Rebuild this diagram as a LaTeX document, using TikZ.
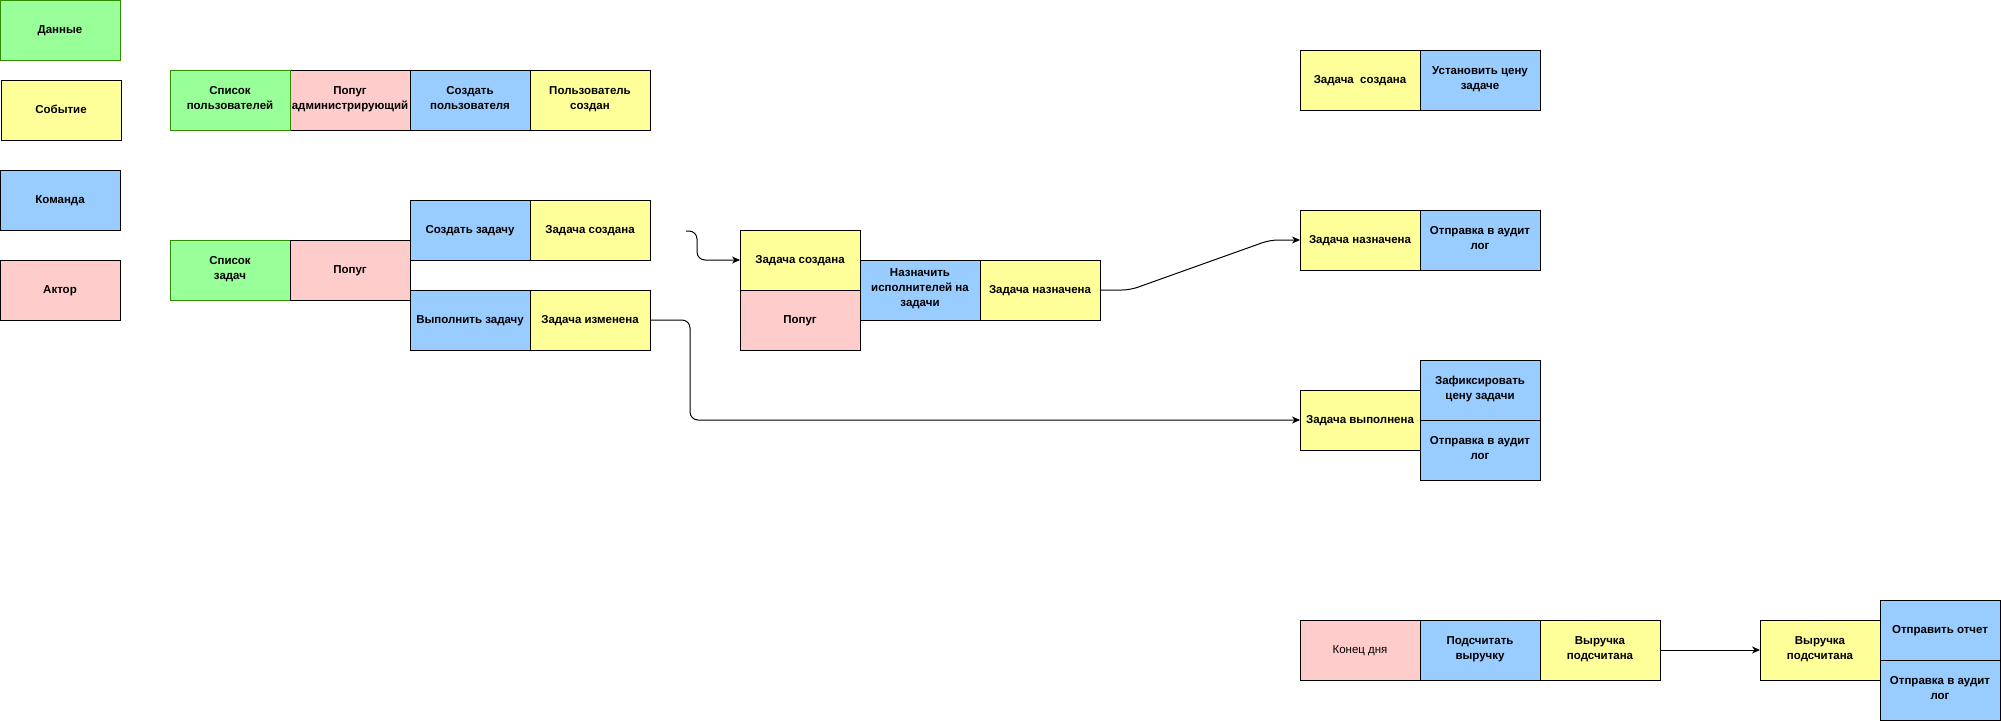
\documentclass[tikz,border=0pt]{standalone}
\usepackage{fontspec}
\setmainfont{Liberation Sans}
\usetikzlibrary{positioning,
				arrows.meta}

\definecolor{datagreen}{RGB}{153,255,153}
\definecolor{datastroke}{RGB}{45,140,0}
\definecolor{eventyellow}{RGB}{255,255,153}
\definecolor{cmdblue}{RGB}{153,204,255}
\definecolor{actorpink}{RGB}{255,204,204}

\tikzset{
  card/.style={draw=black, line width=1pt, minimum width=120pt, minimum height=60pt,
    inner sep=0pt, outer sep=0pt, align=center,
    font=\fontsize{11.5}{15}\selectfont\bfseries,
    execute at begin node=\strut, execute at end node=\strut},
  datacard/.style={card, fill=datagreen, draw=datastroke},
  eventcard/.style={card, fill=eventyellow},
  cmdcard/.style={card, fill=cmdblue},
  actorcard/.style={card, fill=actorpink},
  flow/.style={line width=1pt, rounded corners=8pt,
    -{Stealth[length=8pt,width=7pt,inset=2.5pt]}}
}

\begin{document}
\begin{tikzpicture}[x=1pt, y=-1pt]
  \useasboundingbox (0,0) rectangle (2001,721);
  % legend
  \node[datacard, anchor=north west] (legData) at (0,0) {Данные};
  \node[eventcard, anchor=north west] (legEvent) at (1,80) {Событие};
  \node[cmdcard, anchor=north west] (legCmd) at (0,170) {Команда};
  \node[actorcard, anchor=north west] (legActor) at (0,260) {Актор};
  % users
  \node[actorcard, anchor=north west] (adminParrot) at (290,70) {Попуг\\\makebox[0pt]{администрирующий}};
  \node[datacard, left=0pt of adminParrot] (userList) {Список\\пользователей};
  \node[cmdcard, right=0pt of adminParrot] (createUser) {Создать\\пользователя};
  \node[eventcard, right=0pt of createUser] (userCreated) {Пользователь\\создан};
  % tasks
  \node[datacard, anchor=north west] (taskList) at (170,240) {Список\\задач};
  \node[actorcard, right=0pt of taskList] (parrot) {Попуг};
  \node[cmdcard, anchor=north west] (createTask) at (410,200) {Создать задачу};
  \node[eventcard, right=0pt of createTask] (taskCreated) {Задача создана};
  \node[cmdcard, anchor=north west] (doTask) at (410,290) {Выполнить задачу};
  \node[eventcard, right=0pt of doTask] (taskChanged) {Задача изменена};
  % assignment
  \node[eventcard, anchor=north west] (asgCreated) at (740,230) {Задача создана};
  \node[actorcard, below=0pt of asgCreated] (asgParrot) {Попуг};
  \node[cmdcard, anchor=north west] (assign) at (860,260) {Назначить\\исполнителей на\\задачи};
  \node[eventcard, right=0pt of assign] (assigned) {Задача назначена};
  % billing
  \node[eventcard, anchor=north west] (prcCreated) at (1300,50) {Задача\ \ создана};
  \node[cmdcard, right=0pt of prcCreated] (setPrice) {Установить цену\\задаче};
  \node[eventcard, anchor=north west] (audAssigned) at (1300,210) {Задача назначена};
  \node[cmdcard, right=0pt of audAssigned] (audLogA) {Отправка в аудит\\лог};
  \node[eventcard, anchor=north west] (fixDone) at (1300,390) {Задача выполнена};
  \node[cmdcard, anchor=north west] (fixPrice) at (1420,360) {Зафиксировать\\цену задачи};
  \node[cmdcard, below=0pt of fixPrice] (audLogB) {Отправка в аудит\\лог};
  % end of day
  \node[actorcard, anchor=north west, font=\fontsize{11.5}{15}\selectfont] (dayEnd) at (1300,620) {Конец дня};
  \node[cmdcard, right=0pt of dayEnd] (countRev) {Подсчитать\\выручку};
  \node[eventcard, right=0pt of countRev] (revCounted) {Выручка\\подсчитана};
  \node[eventcard, anchor=north west] (repCounted) at (1760,620) {Выручка\\подсчитана};
  \node[cmdcard, anchor=north west] (sendReport) at (1880,600) {Отправить отчет};
  \node[cmdcard, below=0pt of sendReport] (audLogC) {Отправка в аудит\\лог};

  \coordinate (tcOut) at (686,231);
  \draw[flow] (tcOut) -- (697,231) -- (697,260) -- (asgCreated.west);
  \draw[flow] (taskChanged.east) -- ++(40,0) |- (fixDone.west);
  \draw[flow] (assigned.east) -- (1130,290) -- (1270,240) -- (audAssigned.west);
  \draw[flow] (revCounted) -- (repCounted);
\end{tikzpicture}
\end{document}
